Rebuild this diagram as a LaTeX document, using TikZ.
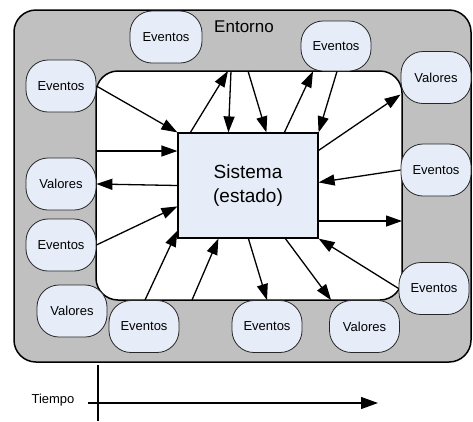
\documentclass[tikz,border=0pt]{standalone}
\usepackage{fontspec}
\setmainfont{Liberation Sans}
\usetikzlibrary{arrows.meta}
\definecolor{envgray}{HTML}{C0C0C0}
\definecolor{pale}{HTML}{E7EDF8}
\begin{document}
\begin{tikzpicture}[x=1pt,y=-1pt,
  item/.style={draw=black!85, line width=0.8pt, fill=pale, rounded corners=22pt,
    minimum width=70pt, minimum height=52pt, inner sep=0pt,
    font=\fontsize{13}{15}\selectfont},
  flow/.style={line width=1.3pt, -{Triangle[length=16pt,width=11pt]}},
  ]
\useasboundingbox (0,0) rectangle (473,421);

% environment and system boundary
\node[draw, line width=1.5pt, fill=envgray, rounded corners=22pt,
  minimum width=457pt, minimum height=352pt, inner sep=0pt] (env) at (242.5,186) {};
\node[draw, line width=1.5pt, fill=white, rounded corners=22pt,
  minimum width=306pt, minimum height=229pt, inner sep=0pt] (inner) at (249,185.5) {};
\node[font=\fontsize{17}{20}\selectfont] (entorno) at (244,27) {Entorno};

% the system
\node[draw, line width=1.2pt, fill=pale, minimum width=140pt, minimum height=105pt,
  inner sep=0pt, align=center, font=\fontsize{19}{24.5}\selectfont] (sys) at (248,185.5)
  {Sistema\\(estado)};

% events and values around the system
\node[item, minimum width=72pt] (ev1) at (166,37) {Eventos};
\node[item] (ev2) at (61,86) {Eventos};
\node[item, minimum height=50pt] (ev3) at (336,46) {Eventos};
\node[item] (va1) at (436,77.5) {Valores};
\node[item] (ev4) at (436,170) {Eventos};
\node[item] (va2) at (61,184) {Valores};
\node[item] (ev5) at (61,245) {Eventos};
\node[item] (va3) at (72,311) {Valores};
\node[item] (ev6) at (144,326.5) {Eventos};
\node[item] (ev7) at (267,326.5) {Eventos};
\node[item] (va4) at (364.5,326.5) {Valores};
\node[item] (ev8) at (434,288.5) {Eventos};

% free ends on the system boundary
\coordinate (t1) at (228,71);
\coordinate (t2) at (231,71);
\coordinate (t3) at (248,71);
\coordinate (l1) at (96,151);
\coordinate (b1) at (145,300);
\coordinate (b2) at (192,300);
\coordinate (r1) at (402,221);

% flows
\draw[flow] (ev2.east) -- (sys.north west);
\draw[flow] (l1) -- (l1 -| sys.west);
\draw[flow] (sys.west) -- (va2.east);
\draw[flow] (ev5.east) -- ([yshift=-74pt]sys.north west);
\draw[flow] (b1) -- ([yshift=8pt]sys.south west);
\draw[flow] (b2) -- ([xshift=41pt]sys.south west);
\draw[flow] ([xshift=71pt]sys.south west) -- (ev7.north);
\draw[flow] ([xshift=108pt]sys.south west) -- ([xshift=2pt]va4.north west);
\draw[flow] (ev8.west) -- (sys.south east);
\draw[flow] (r1 -| sys.east) -- (r1);
\draw[flow] (ev4.west) -- ([yshift=-50pt]sys.north east);
\draw[flow] ([yshift=-18pt]sys.north east) -- ([yshift=-17pt]va1.west);
\draw[flow] ([xshift=1pt]ev3.south) -- (sys.north east);
\draw[flow] ([xshift=107pt]sys.north west) -- ([xshift=-23pt]ev3.south);
\draw[flow] (t3) -- ([xshift=89pt]sys.north west);
\draw[flow] (t2) -- ([xshift=51pt]sys.north west);
\draw[flow] ([xshift=13pt]sys.north west) -- (t1);

% time axis
\coordinate (tv1) at (98,365);
\coordinate (tv2) at (98,421);
\coordinate (th1) at (88,403);
\coordinate (th2) at (378,403);
\node[font=\fontsize{13}{15}\selectfont] (tiempo) at (53,400) {Tiempo};
\draw[line width=1.2pt] (tv1) -- (tv2);
\draw[line width=1.2pt, -{Triangle[length=17pt,width=12pt]}] (th1) -- (th2);
\end{tikzpicture}
\end{document}
